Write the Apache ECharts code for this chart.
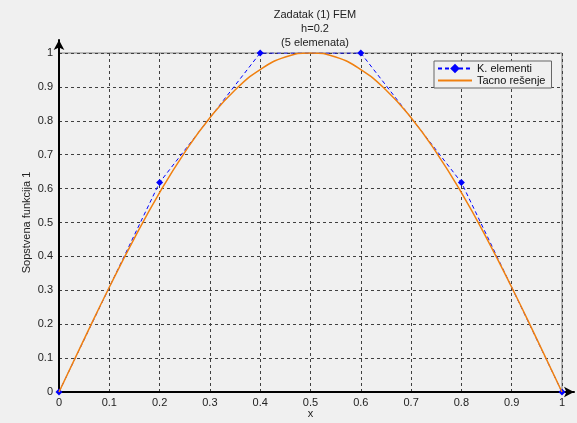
<!DOCTYPE html>
<html><head><meta charset="utf-8">
<script src="https://cdn.jsdelivr.net/npm/echarts@6/dist/echarts.min.js"></script>
<style>html,body{margin:0;padding:0;background:#f0f0f0}#c{width:577px;height:423px}</style>
</head><body><div id="c"></div>
<script>
const feX = [0, 0.2, 0.4, 0.6, 0.8, 1];
const feY = [0, 0.618, 1, 1, 0.618, 0];
const exX = [0,0.05,0.1,0.15,0.2,0.25,0.3,0.35,0.4,0.45,0.5,0.55,0.6,0.65,0.7,0.75,0.8,0.85,0.9,0.95,1];
const exY = [0,0.156,0.309,0.454,0.588,0.707,0.809,0.891,0.951,0.988,1,0.988,0.951,0.891,0.809,0.707,0.588,0.454,0.309,0.156,0];
const titleLines = ['Zadatak (1) FEM', 'h=0.2', '(5 elemenata)'];
const seriesNames = ['K. elementi', 'Tacno rešenje'];
const xName = 'x', yName = 'Sopstvena funkcija 1';

const font = 'Liberation Sans, Arial, sans-serif';
const chart = echarts.init(document.getElementById('c'), null, {renderer: 'canvas'});
const gridStyle = {show: true, lineStyle: {color: '#404040', type: [3, 3], width: 1}};
chart.setOption({
  backgroundColor: '#f0f0f0',
  animation: false,
  title: {text: titleLines.join('\n'), left: 310, textAlign: 'center', top: 3,
    textStyle: {fontFamily: font, fontSize: 11, fontWeight: 'normal', color: '#222', lineHeight: 14}},
  legend: {orient: 'vertical', left: 434, top: 61, padding: [2, 6, 2, 3], itemGap: 1,
    itemWidth: 34, itemHeight: 12, borderColor: '#666', borderWidth: 1, backgroundColor: '#f0f0f0',
    textStyle: {fontFamily: font, fontSize: 11, color: '#111'},
    data: [{name: seriesNames[0]}, {name: seriesNames[1], itemStyle: {opacity: 0}}]},
  grid: [
    {left: 59, right: 15, top: 53, bottom: 31, show: true, borderColor: '#808080', borderWidth: 1,
      backgroundColor: 'transparent', outerBoundsMode: 'none', containLabel: false},
    {left: 59, right: 3, top: 40, bottom: 31, show: false, outerBoundsMode: 'none', containLabel: false}
  ],
  xAxis: [
    {type: 'value', gridIndex: 0, min: 0, max: 1, interval: 0.1, name: xName, nameLocation: 'middle', nameGap: 16,
      nameMoveOverlap: false,
      nameTextStyle: {fontFamily: font, fontSize: 11, color: '#222'},
      axisLine: {show: false}, axisTick: {show: false}, splitLine: gridStyle,
      axisLabel: {fontFamily: font, fontSize: 11, color: '#222', margin: 5, formatter: v => String(+v.toFixed(1))}},
    {type: 'value', gridIndex: 1, min: 0, max: 1, axisLabel: {show: false}, axisTick: {show: false}, splitLine: {show: false},
      axisLine: {show: true, onZero: false, symbol: ['none', 'arrow'], symbolSize: [8, 10], lineStyle: {color: '#000', width: 2}}}
  ],
  yAxis: [
    {type: 'value', gridIndex: 0, min: 0, max: 1, interval: 0.1, name: yName, nameLocation: 'middle', nameGap: 27,
      nameMoveOverlap: false,
      nameTextStyle: {fontFamily: font, fontSize: 11, color: '#222'},
      axisLine: {show: false}, axisTick: {show: false}, splitLine: gridStyle,
      axisLabel: {fontFamily: font, fontSize: 11, color: '#222', margin: 6, formatter: v => String(+v.toFixed(1))}},
    {type: 'value', gridIndex: 1, min: 0, max: 1, axisLabel: {show: false}, axisTick: {show: false}, splitLine: {show: false},
      axisLine: {show: true, onZero: false, symbol: ['none', 'arrow'], symbolSize: [8, 10], lineStyle: {color: '#000', width: 2}}}
  ],
  series: [
    {name: seriesNames[0], type: 'line', xAxisIndex: 0, yAxisIndex: 0, data: feX.map((x, i) => [x, feY[i]]),
      symbol: 'diamond', symbolSize: 7, showAllSymbol: true,
      lineStyle: {color: '#0000ff', width: 1, type: [4, 3]}, itemStyle: {color: '#0000ff'}, z: 2},
    {name: seriesNames[1], type: 'line', xAxisIndex: 0, yAxisIndex: 0, data: exX.map((x, i) => [x, exY[i]]),
      smooth: true, symbol: 'none', lineStyle: {color: '#f08010', width: 1.5}, itemStyle: {color: '#f08010'}, z: 3}
  ]
});
</script></body></html>
